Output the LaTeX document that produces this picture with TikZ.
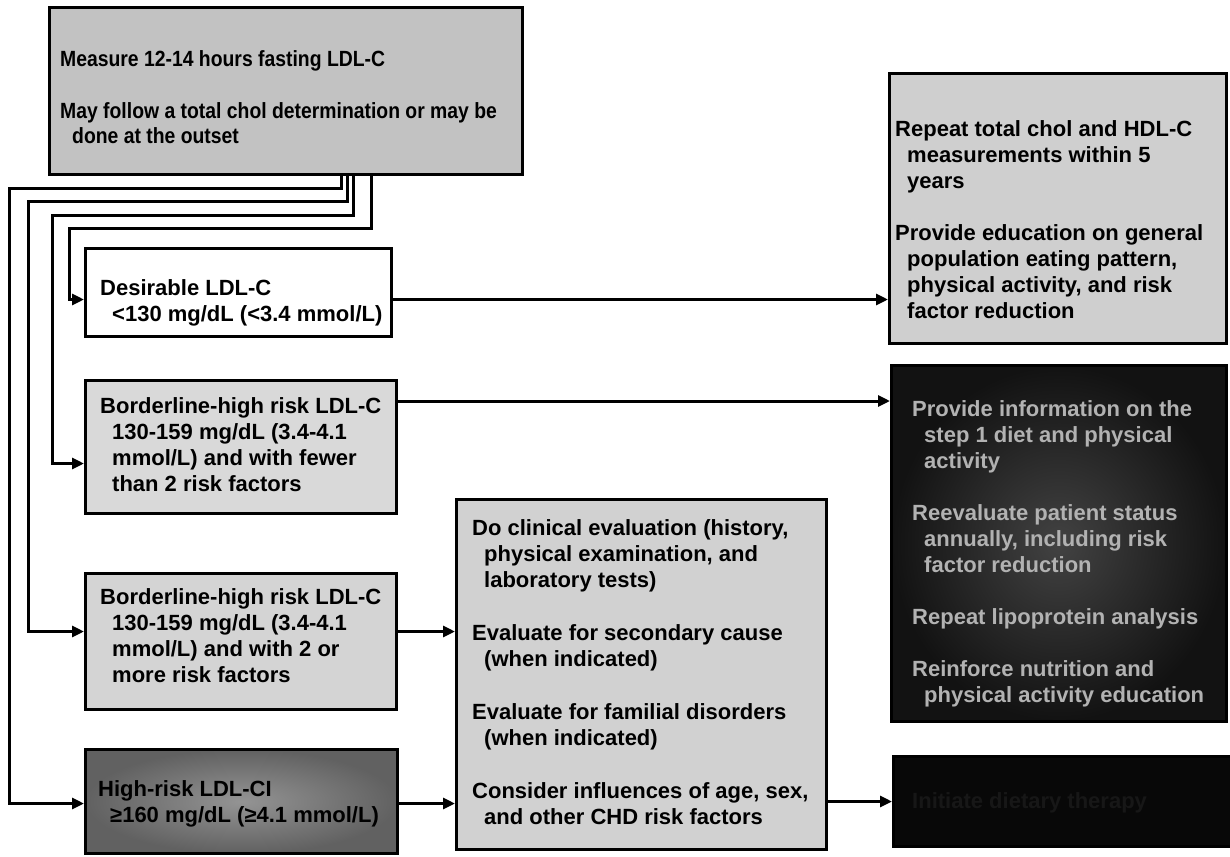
\documentclass[tikz,border=0pt]{standalone}
\usepackage{fontspec}
\setmainfont{Liberation Sans}
\newfontfamily\topfont{Liberation Sans}[FakeStretch=0.88]
\usetikzlibrary{arrows.meta,calc}
\newcommand\mystrut{\rule{0pt}{17pt}}
\newcommand\myind{\hspace*{12pt}}
\begin{document}
\begin{tikzpicture}[x=1pt,y=-1pt,
  box/.style={draw=black, line width=3pt, rectangle, inner sep=0pt, anchor=north west},
  txt/.style={anchor=north west, inner sep=0pt, align=left, font=\fontsize{22}{26}\selectfont\bfseries},
  txttop/.style={txt, font=\topfont\fontsize{22}{25}\selectfont\bfseries},
  conn/.style={line width=3pt, line join=miter},
  arr/.style={conn, -{Triangle[length=12pt,width=11pt]}}]
\useasboundingbox (0,0) rectangle (1230,856);
\fill[white] (0,0) rectangle (1230,856);

% boxes
\node[box, fill=black!24, minimum width=473pt, minimum height=167pt] (top) at (48,6) {};
\node[box, fill=black!19, minimum width=337pt, minimum height=270pt] (rt) at (888,72) {};
\node[box, fill=white, minimum width=306pt, minimum height=88pt] (des) at (84,247) {};
\node[box, fill=black!15, minimum width=311pt, minimum height=133pt] (b1) at (84,379) {};
\node[box, inner color=black!74, outer color=black!93, minimum width=335pt, minimum height=356pt] (dk) at (890,364) {};
\node[box, fill=black!17, minimum width=311pt, minimum height=136pt] (b2) at (84,572) {};
\node[box, fill=black!18, minimum width=370pt, minimum height=350pt] (mid) at (455,498) {};
\node[box, inner color=black!42, outer color=black!62, minimum width=312pt, minimum height=104pt] (hr) at (84,748) {};
\node[box, fill=black!97, minimum width=338pt, minimum height=90pt] (bk) at (892,755) {};

% texts
\node[txttop] (ttop) at (60,49) {\mystrut Measure 12-14 hours fasting LDL-C\\[27pt]
May follow a total chol determination or may be\\
\myind done at the outset};
\node[txt] (trt) at (895,119) {\mystrut Repeat total chol and HDL-C\\
\myind measurements within 5\\
\myind years\\[26pt]
Provide education on general\\
\myind population eating pattern,\\
\myind physical activity, and risk\\
\myind factor reduction};
\node[txt] (tdes) at (100,278) {\mystrut Desirable LDL-C\\
\myind <130 mg/dL (<3.4 mmol/L)};
\node[txt] (tb1) at (100,396) {\mystrut Borderline-high risk LDL-C\\
\myind 130-159 mg/dL (3.4-4.1\\
\myind mmol/L) and with fewer\\
\myind than 2 risk factors};
\node[txt] (tb2) at (100,587) {\mystrut Borderline-high risk LDL-C\\
\myind 130-159 mg/dL (3.4-4.1\\
\myind mmol/L) and with 2 or\\
\myind more risk factors};
\node[txt] (thr) at (98,779) {\mystrut High-risk LDL-CI\\
\myind ≥160 mg/dL (≥4.1 mmol/L)};
\node[txt] (tmid) at (472,518) {\mystrut Do clinical evaluation (history,\\
\myind physical examination, and\\
\myind laboratory tests)\\[27pt]
Evaluate for secondary cause\\
\myind (when indicated)\\[27pt]
Evaluate for familial disorders\\
\myind (when indicated)\\[27pt]
Consider influences of age, sex,\\
\myind and other CHD risk factors};
\node[txt, text=black!30] (tdk) at (912,399) {\mystrut Provide information on the\\
\myind step 1 diet and physical\\
\myind activity\\[26pt]
Reevaluate patient status\\
\myind annually, including risk\\
\myind factor reduction\\[26pt]
Repeat lipoprotein analysis\\[26pt]
Reinforce nutrition and\\
\myind physical activity education};
\node[txt, text=black!91] (tbk) at (912,791) {\mystrut Initiate dietary therapy};

% left connectors from the top box
\coordinate (v1) at (341,188); \coordinate (h1) at (9,188);
\coordinate (v2) at (347,201); \coordinate (h2) at (28,201);
\coordinate (v3) at (353,215); \coordinate (h3) at (52,215);
\coordinate (v4) at (371,228); \coordinate (h4) at (69,228);
\coordinate (e1) at ($(hr.west)+(0,2)$);
\coordinate (e2) at ($(b2.west)+(0,-10)$);
\coordinate (e3) at ($(b1.west)+(0,16.5)$);
\coordinate (e4) at ($(des.west)+(0,7)$);
\draw[arr] (top.south -| v1) -- (v1) -- (h1) |- (e1);
\draw[arr] (top.south -| v2) -- (v2) -- (h2) |- (e2);
\draw[arr] (top.south -| v3) -- (v3) -- (h3) |- (e3);
\draw[arr] (top.south -| v4) -- (v4) -- (h4) |- (e4);

% right connectors
\coordinate (a1) at ($(des.east)+(0,7)$);
\coordinate (a2) at ($(b1.north east)+(0,22)$);
\coordinate (a3) at ($(b2.east)+(0,-10)$);
\coordinate (a4) at ($(hr.east)+(0,2)$);
\draw[arr] (a1) -- (a1 -| rt.west);
\draw[arr] (a2) -- (a2 -| dk.west);
\draw[arr] (a3) -- (a3 -| mid.west);
\draw[arr] (a4) -- (a4 -| mid.west);
\draw[arr] (mid.east |- bk.west) -- (bk.west);
\end{tikzpicture}
\end{document}
